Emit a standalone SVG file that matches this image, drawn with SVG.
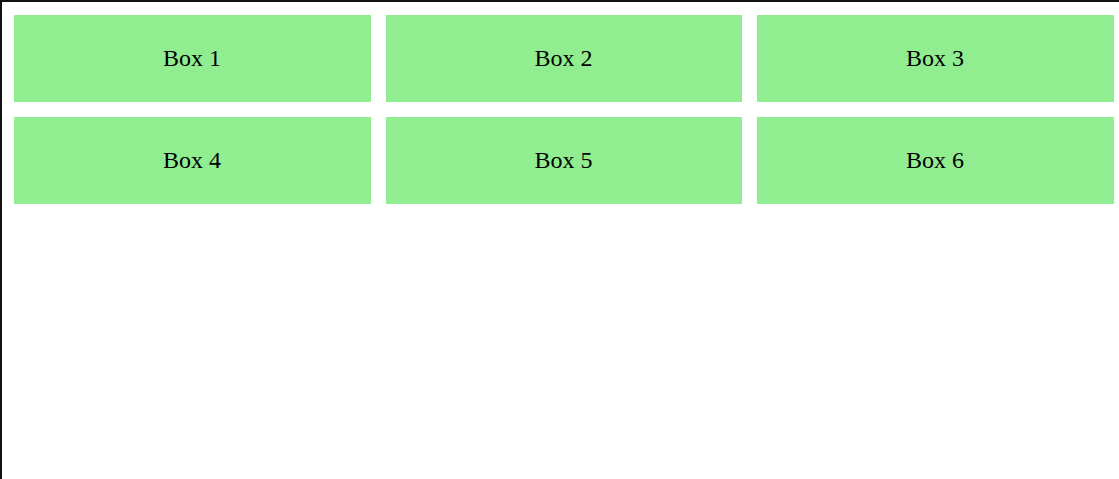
<svg xmlns="http://www.w3.org/2000/svg" width="1119" height="479" viewBox="0 0 1119 479">
<style>
.box{fill:#90EE90}
.lbl{font-family:"Liberation Serif","Times New Roman",serif;font-size:24px;fill:#000;text-anchor:middle}
</style>
<rect x="0" y="0" width="1119" height="479" fill="#fff"/>
<rect x="0" y="0" width="1119" height="2" fill="#111"/>
<rect x="0" y="0" width="2" height="479" fill="#111"/>
<g id="box1"><rect class="box" x="14" y="15" width="357" height="87"/><text class="lbl" x="192" y="66">Box 1</text></g>
<g id="box2"><rect class="box" x="386" y="15" width="356" height="87"/><text class="lbl" x="563.5" y="66">Box 2</text></g>
<g id="box3"><rect class="box" x="757" y="15" width="357" height="87"/><text class="lbl" x="935" y="66">Box 3</text></g>
<g id="box4"><rect class="box" x="14" y="117" width="357" height="87"/><text class="lbl" x="192" y="168">Box 4</text></g>
<g id="box5"><rect class="box" x="386" y="117" width="356" height="87"/><text class="lbl" x="563.5" y="168">Box 5</text></g>
<g id="box6"><rect class="box" x="757" y="117" width="357" height="87"/><text class="lbl" x="935" y="168">Box 6</text></g>
<g id="connectors"></g>
</svg>
